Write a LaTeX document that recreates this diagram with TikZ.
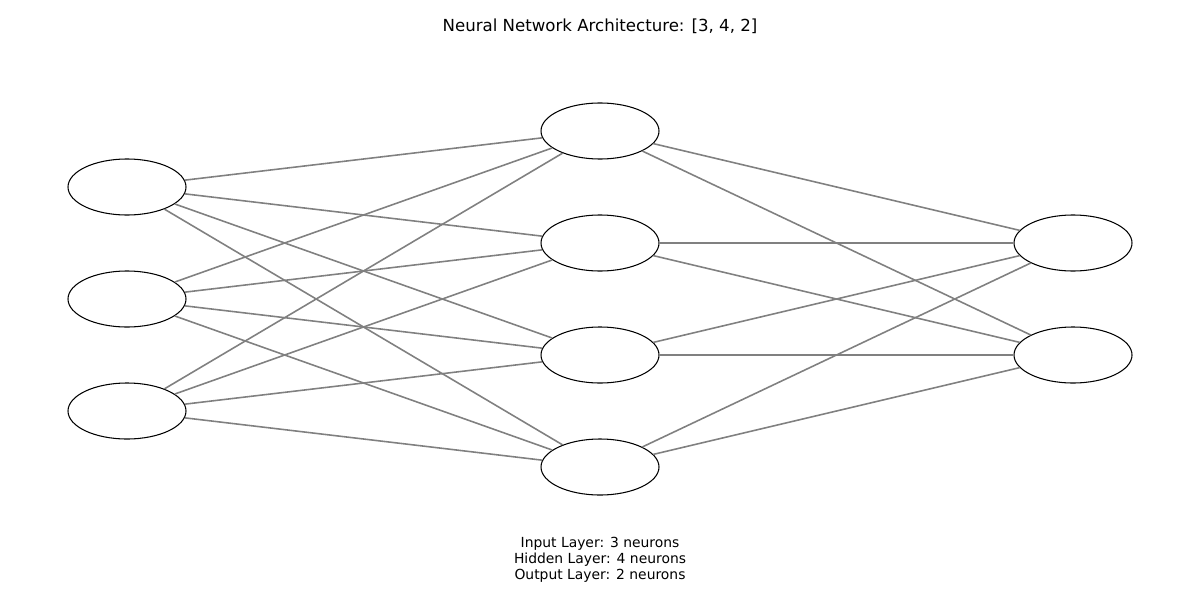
\documentclass[tikz,border=0pt]{standalone}
\usepackage{fontspec}
\setmainfont{DejaVu Sans}
\usepackage{tikz}
\usetikzlibrary{positioning, shapes.geometric}

\begin{document}
\begin{tikzpicture}[node distance=2.24cm, on grid,
    neuron/.style={ellipse, draw=black, line width=0.6pt, fill=white,
        minimum width=2.36cm, minimum height=1.12cm, inner sep=0pt},
    conn/.style={draw=black!50, line width=0.9pt}]
    \useasboundingbox (0,0) rectangle (24,12);

    % input layer
    \node[neuron] (i1) at (2.54,8.26) {};
    \node[neuron] (i2) [below=of i1] {};
    \node[neuron] (i3) [below=of i2] {};

    % hidden layer
    \node[neuron] (h1) at (12,9.38) {};
    \node[neuron] (h2) [below=of h1] {};
    \node[neuron] (h3) [below=of h2] {};
    \node[neuron] (h4) [below=of h3] {};

    % output layer
    \node[neuron] (o1) at (21.46,7.14) {};
    \node[neuron] (o2) [below=of o1] {};

    \path[conn]
    (i1) edge (h1) (i1) edge (h2) (i1) edge (h3) (i1) edge (h4)
    (i2) edge (h1) (i2) edge (h2) (i2) edge (h3) (i2) edge (h4)
    (i3) edge (h1) (i3) edge (h2) (i3) edge (h3) (i3) edge (h4)
    (h1) edge (o1) (h1) edge (o2)
    (h2) edge (o1) (h2) edge (o2)
    (h3) edge (o1) (h3) edge (o2)
    (h4) edge (o1) (h4) edge (o2);

    \node[font=\fontsize{9.45}{11}\selectfont] (title) at (12,11.48) {Neural Network Architecture: [3, 4, 2]};
    \node[font=\fontsize{7.9}{9.07}\selectfont, align=center] (info) at (12,0.80)
        {Input Layer: 3 neurons\\Hidden Layer: 4 neurons\\Output Layer: 2 neurons};
\end{tikzpicture}
\end{document}
